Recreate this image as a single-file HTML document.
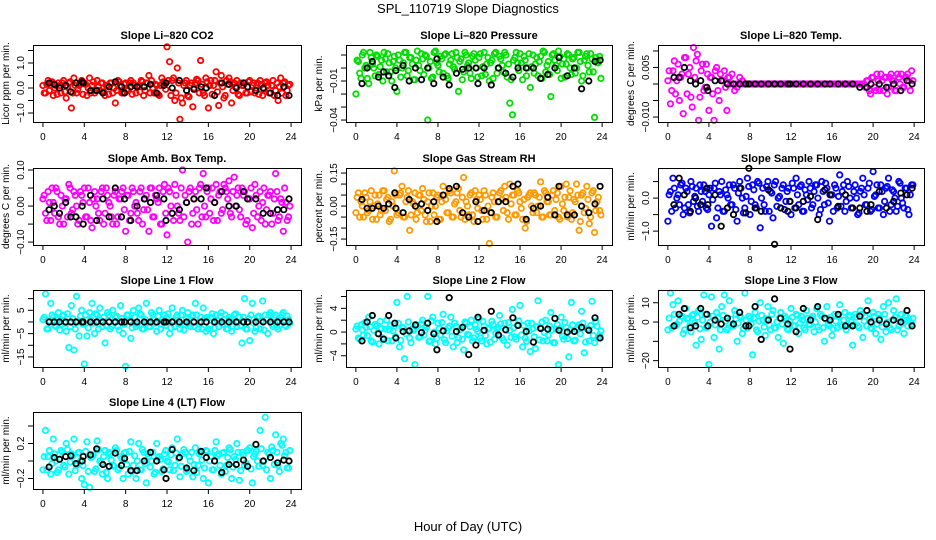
<!DOCTYPE html>
<html><head><meta charset="utf-8">
<style>
html,body{margin:0;padding:0;background:#fff;}
svg{display:block;font-family:"Liberation Sans",sans-serif;}
</style></head>
<body>
<svg id="chart" width="936" height="540" viewBox="0 0 936 540" xmlns="http://www.w3.org/2000/svg">
<rect width="936" height="540" fill="#fff"/>
<text x="468" y="13" font-size="13" text-anchor="middle">SPL_110719  Slope Diagnostics</text>
<text x="468" y="531" font-size="13" text-anchor="middle">Hour of Day (UTC)</text>
</svg>
<script>
const hours = [0,0.25,0.5,0.75,1,1.25,1.5,1.75,2,2.25,2.5,2.75,3,3.25,3.5,3.75,4,4.25,4.5,4.75,5,5.25,5.5,5.75,6,6.25,6.5,6.75,7,7.25,7.5,7.75,8,8.25,8.5,8.75,9,9.25,9.5,9.75,10,10.25,10.5,10.75,11,11.25,11.5,11.75,12,12.25,12.5,12.75,13,13.25,13.5,13.75,14,14.25,14.5,14.75,15,15.25,15.5,15.75,16,16.25,16.5,16.75,17,17.25,17.5,17.75,18,18.25,18.5,18.75,19,19.25,19.5,19.75,20,20.25,20.5,20.75,21,21.25,21.5,21.75,22,22.25,22.5,22.75,23,23.25,23.5,23.75];
const hours2 = [0.125,0.375,0.625,0.875,1.125,1.375,1.625,1.875,2.125,2.375,2.625,2.875,3.125,3.375,3.625,3.875,4.125,4.375,4.625,4.875,5.125,5.375,5.625,5.875,6.125,6.375,6.625,6.875,7.125,7.375,7.625,7.875,8.125,8.375,8.625,8.875,9.125,9.375,9.625,9.875,10.125,10.375,10.625,10.875,11.125,11.375,11.625,11.875,12.125,12.375,12.625,12.875,13.125,13.375,13.625,13.875,14.125,14.375,14.625,14.875,15.125,15.375,15.625,15.875,16.125,16.375,16.625,16.875,17.125,17.375,17.625,17.875,18.125,18.375,18.625,18.875,19.125,19.375,19.625,19.875,20.125,20.375,20.625,20.875,21.125,21.375,21.625,21.875,22.125,22.375,22.625,22.875,23.125,23.375,23.625,23.875];
const blackHours = [0.6,1.1,1.6,2.2,2.7,3.2,3.8,3.9,4.6,5.2,5.8,6.4,7.0,7.6,7.9,8.5,9.1,9.8,10.4,11.0,11.7,11.9,12.5,13.2,13.9,14.6,15.3,15.8,16.6,17.3,18.0,18.7,19.4,19.8,20.6,21.3,22.0,22.7,23.3,23.8];
const xTicks = [0,4,8,12,16,20,24];

const co2Vals = [0.1,-0.2,0.3,0.2,-0.3,0.1,0.2,-0.2,0.3,-0.4,0.2,-0.8,0.4,-0.2,0.1,0.3,0.2,-0.3,0.4,0.1,-0.2,0.3,-0.1,0.2,-0.3,0.1,0.2,-0.2,-0.6,0.3,0.1,-0.2,0.2,-0.1,0.3,0.2,-0.2,0.1,0.3,-0.3,0.2,0.5,0.3,-0.2,0.1,-0.3,0.4,0.2,1.65,1.05,0.3,-0.5,0.8,-1.25,-0.6,0.2,-0.3,0.1,-0.75,0.2,0.3,1.1,-0.2,0.4,-0.8,0.3,0.1,0.65,-0.7,0.5,-0.4,0.3,0.4,-0.6,0.2,0.3,-0.3,0.1,0.2,-0.2,0.3,0.1,-0.2,0.2,0.3,-0.3,0.2,0.1,-0.2,0.3,-0.1,-0.5,0.4,0.2,-0.3,0.1];
const co2Vals2 = [-0.2,0.15,-0.1,0.25,0,-0.25,0.1,0.2,-0.15,0.05,0.25,-0.2,0.1,-0.05,0.2,-0.25,0.15,0,-0.2,0.25,-0.1,0.05,0.2,-0.15,0.1,-0.25,0.2,0,-0.1,0.25,-0.2,0.15,-0.05,0.2,-0.25,0.1,0.05,-0.15,0.25,-0.1,0.2,-0.2,0,0.15,-0.25,0.1,0.25,-0.05,0.3,-0.3,0.4,-0.2,0.2,-0.4,0.1,0.3,-0.35,0.2,0,0.35,-0.2,0.15,-0.3,0.25,0.1,-0.25,0.3,-0.15,0.2,0.05,-0.3,0.15,0.25,-0.1,0.05,-0.25,0.2,0.1,-0.2,0.25,-0.15,0.2,0,-0.25,0.15,-0.05,0.25,-0.2,0.1,-0.3,0.2,0.05,-0.2,0.25,-0.1,0.15];
const co2Black = [0.2,0.15,0,0.1,-0.15,0.2,0.25,0.2,-0.1,-0.1,-0.2,0.05,0.25,0.05,-0.2,0.05,0.05,0.05,0.15,-0.2,0.1,0.2,0,0.3,-0.1,-0.05,0.05,0,-0.3,0.2,0.15,0,0.2,0.05,-0.1,0,-0.2,-0.3,0.05,-0.3];
const presVals = [-0.02,0.005,-0.008,0.012,0.002,-0.012,0.008,0.0,0.01,-0.005,0.006,0.012,-0.003,0.004,-0.01,0.009,-0.018,0.006,0.0,0.012,-0.006,0.008,0.003,-0.009,0.013,-0.002,0.007,0.01,-0.04,0.005,-0.007,0.013,0.002,0.009,-0.004,0.011,-0.008,0.006,0.001,0.012,-0.018,0.007,-0.003,0.01,0.004,-0.008,0.011,0.0,0.008,-0.006,0.012,0.003,-0.01,0.006,0.011,-0.004,0.009,0.002,0.012,-0.007,-0.027,-0.036,0.008,0.004,0.011,-0.009,0.006,0.0,-0.015,0.01,0.003,-0.006,0.009,0.013,-0.003,0.005,-0.022,0.011,0.002,0.013,-0.008,0.007,0.003,0.01,-0.005,0.008,0.0,0.012,-0.01,0.006,0.011,-0.003,0.007,-0.038,0.004,0.009];
const presVals2 = [0.006,-0.004,0.01,0.0,-0.008,0.012,0.003,-0.006,0.009,0.001,-0.01,0.007,0.011,-0.003,0.005,0.0,0.01,-0.007,0.004,0.012,-0.002,0.008,-0.009,0.006,0.002,0.011,-0.005,0.009,0.0,-0.008,0.012,0.004,-0.003,0.007,0.01,-0.006,0.003,0.011,-0.001,0.008,0.005,-0.009,0.012,0.002,-0.004,0.009,0.006,-0.007,0.011,0.001,-0.005,0.008,0.004,-0.008,0.012,0.0,0.007,-0.003,0.01,0.003,-0.009,0.006,0.012,-0.002,0.004,0.009,-0.006,0.011,0.001,-0.004,0.008,0.005,-0.008,0.012,0.002,-0.005,0.01,0.006,-0.002,0.009,0.003,-0.007,0.011,0.0,0.007,-0.004,0.012,0.005,-0.006,0.009,0.002,0.011,-0.003,0.008,0.004,-0.008];
const presBlack = [-0.012,0.0,0.005,-0.007,-0.003,-0.006,-0.015,-0.002,0.002,-0.01,0.0,-0.009,0.0,-0.012,0.007,-0.007,-0.013,-0.004,-0.001,0.0,0.0,-0.012,0.0,-0.013,0.0,-0.004,-0.007,0.0,0.0,0.0,-0.008,-0.005,0.0,0.008,-0.006,0.0,-0.016,-0.01,0.005,0.006];
const tempVals = [0.001,-0.006,0.004,-0.003,0.006,0.002,-0.009,0.008,0.003,-0.004,0.011,0.007,-0.011,0.004,-0.002,0.006,-0.008,0.002,-0.011,0.005,-0.005,0.001,0.004,-0.008,0.002,0.003,-0.002,-0.001,0.002,0.001,0,0,0,0,0,0,0,0,0,0,0,0,0,0,0,0,0,0,0,0,0,0,0,0,0,0,0,0,0,0,0,0,0,0,0,0,0,0,0,0,0,0,0,0,0,0,0,-0.001,0.001,-0.003,0.002,-0.002,0.001,0.003,-0.002,0.002,-0.001,0.003,0.001,-0.002,0.002,0.003,-0.001,0.002,0.001,0.004];
const tempVals2 = [0.004,-0.002,0.007,0.001,-0.005,0.003,0.008,-0.003,0.005,-0.007,0.002,0.009,-0.004,0.006,-0.001,0.003,0.002,-0.003,0.004,-0.002,0.003,0.001,-0.001,0.002,0,0,0,0,0,0,0,0,0,0,0,0,0,0,0,0,0,0,0,0,0,0,0,0,0,0,0,0,0,0,0,0,0,0,0,0,0,0,0,0,0,0,0,0,0,0,0,0,0,0,0,0,0,0.001,-0.002,0.002,-0.001,0.003,-0.002,0.001,0.002,-0.003,0.002,0.001,-0.002,0.003,0.0,-0.001,0.002,0.003,-0.002,0.001];
const tempBlack = [0.002,0.002,0.005,0.001,0.0,0.001,-0.001,-0.002,0.001,0.001,0,0,0,0,0,0,0,0,0,0,0,0,0,0,0,0,0,0,0,0,0,-0.001,-0.001,0.0,0.0,-0.001,0.0,-0.002,0.001,0.0];
const ambVals = [0.02,-0.02,0.04,-0.04,0.01,0.05,-0.03,0.03,-0.05,0.02,0.06,-0.02,0.04,0.0,-0.04,0.03,0.05,-0.03,0.01,-0.06,0.04,0.02,-0.04,0.05,-0.02,0.03,0.0,-0.05,0.04,-0.03,0.02,0.05,-0.07,0.03,-0.02,0.04,0.01,-0.04,0.05,-0.01,0.03,-0.07,0.05,-0.03,0.02,0.05,-0.05,0.06,-0.08,0.04,-0.02,0.06,0.0,-0.04,0.1,0.03,-0.1,0.05,-0.02,0.04,-0.05,0.06,0.09,-0.03,0.05,0.02,-0.04,0.06,0.03,-0.02,0.06,0.04,0.07,-0.03,0.08,0.03,-0.01,0.05,0.04,-0.04,0.02,-0.06,0.06,-0.03,0.04,0.01,-0.05,0.03,0.04,-0.02,0.09,-0.04,0.02,-0.07,0.01,-0.03];
const ambVals2 = [0.03,-0.04,0.01,0.05,-0.02,0.04,-0.05,0.0,0.02,-0.03,0.05,-0.01,0.03,-0.05,0.04,0.01,-0.03,0.05,-0.04,0.02,0.0,-0.02,0.04,-0.05,0.05,0.01,-0.03,0.03,-0.05,0.02,0.04,-0.01,0.03,-0.04,0.05,0.0,-0.02,0.04,-0.05,0.02,-0.01,0.05,-0.03,0.03,0.01,-0.05,0.04,-0.02,0.05,0.0,-0.04,0.03,-0.02,0.05,-0.03,0.01,0.04,-0.05,0.02,-0.01,0.05,-0.03,0.0,0.04,-0.02,0.05,0.01,-0.04,0.04,-0.01,0.05,0.02,-0.02,0.04,0.0,0.05,-0.03,0.03,-0.05,0.02,0.05,-0.02,0.03,0.0,-0.04,0.05,-0.01,0.03,-0.05,0.02,0.04,-0.03,0.01,0.05,-0.04,0.0];
const ambBlack = [-0.01,0.0,-0.02,0.01,-0.03,-0.03,0.0,-0.05,0.03,-0.04,0.02,-0.03,0.05,-0.03,0.02,-0.04,0.0,0.02,0.01,0.03,0.02,-0.04,-0.02,-0.01,0.01,0.02,0.02,0.05,0.01,0.04,0.0,0.0,0.04,0.02,0.02,-0.02,-0.02,-0.01,-0.01,0.02];
const gasVals = [-0.03,0.06,0.02,-0.05,0.04,-0.02,0.07,0.0,-0.06,0.05,-0.02,0.07,0.03,-0.07,0.02,0.16,-0.04,0.05,0.09,-0.05,0.04,-0.11,0.02,0.06,-0.03,0.05,0.08,-0.04,0.02,-0.07,0.06,0.0,0.05,-0.06,0.09,0.03,-0.03,0.06,-0.05,0.02,0.08,-0.05,0.13,0.02,-0.04,0.06,-0.07,0.03,0.05,-0.02,0.07,-0.06,-0.17,0.04,0.02,-0.05,0.06,0.03,0.09,-0.03,0.1,0.05,-0.04,0.07,0.02,-0.06,-0.1,0.04,0.06,-0.03,0.05,0.0,0.11,-0.05,0.06,0.02,-0.04,0.07,0.03,-0.05,0.09,-0.02,0.1,0.04,-0.06,0.03,0.1,-0.11,0.05,-0.03,0.09,-0.08,0.06,-0.12,0.02,-0.02];
const gasVals2 = [0.04,-0.05,0.0,0.06,-0.03,0.02,-0.06,0.05,0.01,-0.04,0.07,-0.02,0.04,-0.06,0.0,0.05,-0.03,0.06,-0.05,0.02,0.07,-0.04,0.01,-0.06,0.05,-0.02,0.03,-0.07,0.06,0.0,-0.04,0.04,-0.06,0.02,0.05,-0.03,0.07,-0.05,0.01,0.06,-0.02,0.04,-0.06,0.0,0.05,-0.04,0.07,-0.01,0.03,-0.06,0.05,0.0,-0.03,0.06,-0.05,0.02,0.07,-0.02,0.04,-0.06,0.01,0.05,-0.04,0.06,-0.01,0.03,-0.07,0.05,0.0,0.06,-0.03,0.04,-0.05,0.07,0.02,-0.04,0.05,-0.02,0.06,-0.06,0.01,0.04,-0.05,0.07,-0.03,0.02,0.05,-0.07,0.06,-0.01,0.03,-0.05,0.07,-0.02,0.04,-0.04];
const gasBlack = [0.03,-0.01,-0.01,0.0,-0.01,0.01,0.06,-0.01,-0.03,0.03,0.0,0.01,-0.02,0.02,-0.07,0.05,0.08,0.09,-0.03,-0.05,0.02,-0.07,-0.02,-0.03,0.02,0.02,0.09,0.1,-0.06,-0.01,0.0,0.04,-0.04,0.09,-0.04,-0.04,0.0,-0.03,0.01,0.09];
const sampleVals = [-0.7,0.2,0.6,-0.3,0.1,0.4,-0.5,0.3,-0.2,0.5,-0.1,0.3,-0.4,0.2,0.4,-0.3,0.1,-0.85,0.3,-0.6,0.2,0.5,-0.4,0.1,0.4,-0.2,0.3,-0.7,0.5,0.0,-0.3,0.6,-0.5,0.4,-0.2,0.5,-0.9,0.3,-0.4,0.5,0.2,-0.6,0.5,0.0,-0.3,0.4,-0.1,0.3,-0.5,0.3,0.6,-0.2,0.4,-0.4,0.1,0.5,-0.3,0.2,0.4,-0.5,0.5,-0.2,0.3,-0.7,0.1,0.4,-0.3,0.7,0.2,-0.4,0.5,0.0,-0.3,0.4,-0.5,0.2,0.6,-0.2,0.3,-0.4,0.8,0.1,-0.3,0.4,-0.5,0.3,0.6,-0.2,0.2,-0.4,0.5,0.0,-0.3,0.3,-0.5,0.4];
const sampleVals2 = [0.1,-0.4,0.3,0.0,-0.2,0.45,-0.3,0.2,-0.45,0.35,0.05,-0.25,0.4,-0.1,0.2,-0.35,0.3,-0.05,0.45,-0.3,0.1,-0.4,0.25,0.0,-0.2,0.4,-0.35,0.15,0.3,-0.45,0.05,0.35,-0.1,0.25,-0.3,0.45,0.0,-0.2,0.35,-0.4,0.15,0.4,-0.25,0.05,0.3,-0.35,0.2,-0.1,0.45,-0.3,0.1,0.35,-0.4,0.25,-0.05,0.3,-0.2,0.4,0.0,-0.35,0.2,0.45,-0.15,0.1,-0.4,0.3,0.05,-0.25,0.4,-0.1,0.35,-0.3,0.2,0.0,-0.45,0.3,0.1,-0.2,0.45,-0.35,0.05,0.4,-0.3,0.2,-0.1,0.35,-0.4,0.25,0.0,-0.25,0.45,-0.15,0.3,-0.35,0.1,0.4];
const sampleBlack = [-0.2,0.6,0.1,-0.4,0.0,-0.2,0.3,-0.2,0.1,-0.85,-0.3,-0.5,0.3,-0.45,0.9,-0.3,-0.4,0.25,-1.4,-0.3,-0.4,-0.1,-0.3,-0.1,0.05,-0.65,0.25,0.1,-0.25,0.1,-0.3,-0.3,-0.4,-0.2,0.2,-0.3,-0.1,0.15,0.1,0.3];
const line1Vals = [1,12,-3,8,2,-2,4,-1,3,-4,-11,7,-12,11,-6,5,-18,-6,4,8,-5,3,6,-2,-9,4,-3,5,2,-2,7,-5,-19,3,-7,5,-2,6,3,-3,8,-2,4,1,-4,5,-1,3,2,-5,6,-2,3,-3,5,-1,4,-2,3,8,-3,2,6,-4,-3,2,-5,3,-2,4,1,-3,2,-4,3,-2,2,-9,10,-3,-8,8,-4,2,-3,9,3,-5,4,-2,3,-3,2,4,-2,1];
const line1Vals2 = [2,-3,0.5,3,-1.5,1,-3.5,2.5,-0.5,3.5,-2,1.5,-3,0,2.5,-1,3,-2.5,1,-0.5,3.5,-3,0.5,2,-1.5,3,-2,0,2.5,-3.5,1.5,-1,3,0.5,-2.5,2,-1,3.5,-3,1,0,-2,3,-0.5,2.5,-3,1,-1.5,3.5,-2.5,0.5,2,-1,3,-3.5,1.5,-0.5,2.5,-2,3,0,-3,1.5,2,-1.5,3.5,-2.5,0.5,2.5,-1,3,-3,1,-2,3.5,0,-1.5,2,-3,1.5,3,-0.5,-2.5,2.5,0.5,-3.5,1,3,-1,2,-2,0.5,3,-1.5,2.5,-0.5];
const line1Black = [0,0,0,0,0,0,0,0,0,0,0,0,0,0,0,0,0,0,0,0,0,0,0,0,0,0,0,0,0,0,0,0,0,0,0,0,0,0,0,0];
const line2Vals = [0.5,-1,1.2,-0.5,0.8,2.5,-1.5,0.3,1,-2,0.6,-1.2,2,0.4,-1.5,1,5,-2.5,0.8,-4.5,6,-1,0.5,-5.5,1,-0.8,2,0.3,6,-1.5,2.5,-2,1.5,-0.5,3,-1.8,0.7,2.5,-2.5,1,-1,0.5,-3,1.5,-0.5,2,-1,0.5,2.2,-1.5,1,-2,0.7,1.8,-1.2,0.4,2.8,-1,1.5,-2.2,0.3,3.8,-0.8,1.2,4.5,-2.5,-1,1.5,-3.3,0.6,-2.8,5.3,0.8,-1.5,2,-0.5,3.3,-1.8,0.5,-5.5,2.5,-1.2,0.8,-4.2,5,-1.5,0.4,1.2,3.5,-3.5,0.6,-1.5,5.2,-1.8,1,-0.5];
const line2Vals2 = [1,-1.2,0.4,1.6,-0.6,0.9,-1.7,1.3,-0.2,1.8,-1,0.5,-1.5,1.1,0.2,-0.8,1.5,-1.4,0.7,-0.3,1.7,-1.8,0.3,1.2,-0.9,1.4,-0.5,0.8,-1.6,1.9,0,-1.1,0.6,1.6,-1.3,0.2,1,-0.7,1.5,-1.8,0.4,-1.2,1.7,-0.4,0.9,-1.5,1.2,0.1,-1,1.8,-0.6,0.5,-1.7,1.3,-0.2,0.8,1.4,-1.4,0.3,1.6,-0.9,0.7,-1.2,1.9,-0.5,1.1,-1.6,0.2,1.5,-0.8,0.9,-1.3,1.7,-0.1,-1.5,1,0.4,-1.8,1.3,0.6,-0.7,1.6,-1.1,0.3,1.2,-1.4,0.8,-0.3,1.5,-1.7,0.5,1.1,-0.6,1.8,-1,0.2];
const line2Black = [-1.5,1.7,2.8,-0.3,-1.2,2.8,1.5,-1,0.1,0.2,1.2,-0.1,1.5,-0.3,-3,0.2,5.8,0.1,0.8,-3.8,-2.2,2.5,0.3,3.5,-0.5,0.4,2.4,1.1,0.1,-1.7,0.6,0.5,2.3,0.3,0,0.1,0.8,0.3,2.4,-1.0];
const line3Vals = [-4,15,9,-2,11,3,-6,7,2,-5,4,-12,6,-9,14,-3,-22,13,-8,5,-14,8,14,-4,11,-2,6,-10,3,-6,15,-3,2,-17,5,-5,10,1,-7,8,-4,6,-3,-8,5,-11,2,-4,7,-2,4,-6,3,-3,6,-1,2,-5,7,-4,3,-10,8,-2,-7,4,-3,9,-2,5,-1,3,-12,4,-2,6,-8,3,11,-3,5,-6,4,-9,8,-5,10,-4,6,12,-2,4,-6,3,1,-1];
const line3Vals2 = [2,-3,4,-1,0.5,3,-4,1.5,-2,3.5,-0.5,2.5,-3.5,1,4,-2.5,0,3,-1.5,2,-4,3.5,0.5,-3,1.5,-2,4,-0.5,2.5,-3.5,1,3,-1,2,-4,0.5,3.5,-2.5,1.5,-1.5,4,-3,0,2,-1,3,-3.5,0.5,2.5,-2,3.5,-0.5,1,-4,2,-1.5,3,0,-2.5,4,-3,1.5,-1,2.5,-3.5,0.5,3,-2,1,-4,3.5,0,-1.5,2.5,-3,4,0.5,-2,1.5,-3.5,3,-1,2,-2.5,4,0,-3,1,2.5,-4,1.5,-0.5,3.5,-2,0,2];
const line3Black = [-2,4,7,-3,-2,7,4,-2,1,-1,2,-1,5,-2,-2,8,-9,1,12,2,-1,-14,-5,7,1,8,2,1,4,-2,-2,3,6,0,1,-1,1,0,6,-2];
const line4Vals = [-0.1,0.35,0.05,-0.15,0.25,0.0,-0.1,0.12,-0.05,0.2,-0.15,0.08,0.25,-0.05,0.1,-0.2,-0.27,0.22,-0.3,0.05,-0.12,0.23,0.0,-0.15,0.12,-0.2,0.08,-0.05,0.15,-0.1,0.05,-0.2,0.1,-0.15,0.22,-0.05,-0.2,0.2,-0.1,0.1,-0.25,0.05,0.0,-0.15,0.2,0.05,-0.12,0.08,0.0,-0.1,0.15,-0.05,0.25,-0.18,0.08,0.1,-0.1,0.0,-0.18,0.15,-0.05,0.1,-0.2,0.12,-0.25,0.05,-0.1,0.22,0.08,-0.15,0.1,-0.05,0.15,-0.2,0.05,0.2,-0.22,0.1,-0.05,0.12,0.15,-0.25,0.08,0.0,0.35,-0.05,0.5,0.1,-0.2,0.12,0.3,-0.05,0.2,0.25,0.1,-0.08];
const line4Vals2 = [0.05,-0.1,0.12,-0.03,0.08,-0.13,0.02,0.1,-0.07,0.13,-0.01,0.06,-0.11,0.09,0.0,-0.05,0.11,-0.12,0.04,0.07,-0.09,0.13,-0.02,0.05,-0.13,0.1,0.01,-0.06,0.12,-0.08,0.03,0.09,-0.04,0.11,-0.12,0.06,0.0,-0.1,0.13,-0.03,0.08,-0.07,0.1,-0.13,0.04,0.02,-0.09,0.12,-0.01,0.07,-0.11,0.09,0.03,-0.06,0.13,-0.12,0.05,0.1,-0.04,-0.13,0.08,0.01,-0.08,0.11,0.0,-0.1,0.12,0.06,-0.05,0.09,-0.12,0.04,0.13,-0.07,0.02,0.1,-0.11,0.07,-0.02,0.12,-0.09,0.05,0.11,-0.06,0.14,0.0,-0.1,0.08,0.16,-0.04,0.1,-0.12,0.18,0.06,-0.08,0.12];
const line4Black = [-0.07,0.04,0.02,0.05,0.06,-0.03,0.0,0.05,0.07,0.14,-0.04,-0.06,0.09,-0.05,0.03,-0.11,-0.11,0.0,0.1,0.0,-0.1,-0.2,0.13,0.04,-0.08,-0.11,0.11,0.04,0.0,-0.13,-0.04,-0.04,0.01,-0.06,0.19,0.0,0.04,-0.02,0.01,0.0];

const co2Ticks=[-1,-0.5,0,0.5,1,1.5], co2Labels=['-1.0','','0.0','','1.0',''];
const presTicks=[0.01,0,-0.01,-0.02,-0.03,-0.04], presLabels=['','','-0.01','','','-0.04'];
const tempTicks=[0.01,0.005,0,-0.005,-0.01], tempLabels=['','0.005','','','-0.010'];
const ambTicks=[0.1,0.05,0,-0.05,-0.1], ambLabels=['0.10','','0.00','','-0.10'];
const gasTicks=[0.15,0.1,0.05,0,-0.05,-0.1,-0.15], gasLabels=['0.15','','','0.00','','','-0.15'];
const sampleTicks=[0.5,0,-0.5,-1], sampleLabels=['','0.0','','-1.0'];
const line1Ticks=[10,5,0,-5,-10,-15], line1Labels=['','5','','-5','','-15'];
const line2Ticks=[6,4,2,0,-2,-4], line2Labels=['','4','','0','','-4'];
const line3Ticks=[10,0,-10,-20], line3Labels=['10','0','','-20'];
const line4Ticks=[0.4,0.2,0,-0.2], line4Labels=['','0.2','','-0.2'];

const NS='http://www.w3.org/2000/svg';
const svg=document.getElementById('chart');
const colLeft=[33,346,658], colW=[268,266,266], rowTop=[45,168,290,412], boxH=77;
const panels=[
 {name:'co2',title:'Slope Li\u2013820 CO2',yl:'Licor ppm per min.',col:0,row:0,lo:-1.36,hi:1.72,color:'#ff0000',v:co2Vals,v2:co2Vals2,b:co2Black,t:co2Ticks,l:co2Labels},
 {name:'pressure',title:'Slope Li\u2013820 Pressure',yl:'kPa per min.',col:1,row:0,lo:-0.0415,hi:0.0177,color:'#00dd00',v:presVals,v2:presVals2,b:presBlack,t:presTicks,l:presLabels},
 {name:'temp',title:'Slope Li\u2013820 Temp.',yl:'degrees C per min.',col:2,row:0,lo:-0.0115,hi:0.0118,color:'#ff00ff',v:tempVals,v2:tempVals2,b:tempBlack,t:tempTicks,l:tempLabels},
 {name:'amb-box-temp',title:'Slope Amb. Box Temp.',yl:'degrees C per min.',col:0,row:1,lo:-0.108,hi:0.1056,color:'#ff00ff',v:ambVals,v2:ambVals2,b:ambBlack,t:ambTicks,l:ambLabels},
 {name:'gas-stream-rh',title:'Slope Gas Stream RH',yl:'percent per min.',col:1,row:1,lo:-0.177,hi:0.173,color:'#ff9900',v:gasVals,v2:gasVals2,b:gasBlack,t:gasTicks,l:gasLabels},
 {name:'sample-flow',title:'Slope Sample Flow',yl:'ml/min per min.',col:2,row:1,lo:-1.42,hi:0.91,color:'#0000ff',v:sampleVals,v2:sampleVals2,b:sampleBlack,t:sampleTicks,l:sampleLabels},
 {name:'line1-flow',title:'Slope Line 1 Flow',yl:'ml/min per min.',col:0,row:2,lo:-19.3,hi:13.7,color:'#00ffff',v:line1Vals,v2:line1Vals2,b:line1Black,t:line1Ticks,l:line1Labels},
 {name:'line2-flow',title:'Slope Line 2 Flow',yl:'ml/min per min.',col:1,row:2,lo:-5.9,hi:7.1,color:'#00ffff',v:line2Vals,v2:line2Vals2,b:line2Black,t:line2Ticks,l:line2Labels},
 {name:'line3-flow',title:'Slope Line 3 Flow',yl:'ml/min per min.',col:2,row:2,lo:-23.3,hi:16.6,color:'#00ffff',v:line3Vals,v2:line3Vals2,b:line3Black,t:line3Ticks,l:line3Labels},
 {name:'line4-flow',title:'Slope Line 4 (LT) Flow',yl:'ml/min per min.',col:0,row:3,lo:-0.32,hi:0.56,color:'#00ffff',v:line4Vals,v2:line4Vals2,b:line4Black,t:line4Ticks,l:line4Labels}
];
function mk(tag,attrs,parent){const e=document.createElementNS(NS,tag);for(const k in attrs)e.setAttribute(k,attrs[k]);parent.appendChild(e);return e;}
panels.forEach(p=>{
 const L=colLeft[p.col], W=colW[p.col], T=rowTop[p.row], B=T+boxH;
 const xs=h=>L+W*(h+0.96)/25.92;
 const ys=v=>B-boxH*(v-p.lo)/(p.hi-p.lo);
 const g=mk('g',{},svg);
 
 
 const tt=mk('text',{x:L+W/2,y:T-6,'font-size':11,'font-weight':'bold','text-anchor':'middle'},g);
 tt.textContent=p.title;
 
 
 const cg=mk('g',{fill:'none',stroke:p.color,'stroke-width':1.8},g);
 
 
 p.v.forEach((v,i)=>{
  const c=mk('circle',{cx:xs(hours[i]).toFixed(1),cy:ys(v).toFixed(1),r:2.7},cg);
  
  
 });
 p.v2.forEach((v,i)=>{
  const c=mk('circle',{cx:xs(hours2[i]).toFixed(1),cy:ys(v).toFixed(1),r:2.7},cg);
  
  
 });
 const bg=mk('g',{fill:'none',stroke:'#000','stroke-width':1.8},g);
 
 
 p.b.forEach((v,i)=>{
  const c=mk('circle',{cx:xs(blackHours[i]).toFixed(1),cy:ys(v).toFixed(1),r:2.7},bg);
  
  
 });
 const box=mk('rect',{x:L+0.5,y:T+0.5,width:W,height:boxH,fill:'none',stroke:'#000','stroke-width':1},g);
 
 
 const x0=xs(xTicks[0]), x1=xs(xTicks[xTicks.length-1]);
 mk('line',{x1:x0,x2:x1,y1:B+0.5,y2:B+0.5,stroke:'#000'},g);
 xTicks.forEach(t=>{
  const x=xs(t);
  mk('line',{x1:x,x2:x,y1:B,y2:B+5,stroke:'#000'},g);
  const tx=mk('text',{x:x,y:B+18,'font-size':10,'text-anchor':'middle'},g);
  tx.textContent=t;
  
  
 });
 mk('line',{x1:L+0.5,x2:L+0.5,y1:ys(p.t[0]),y2:ys(p.t[p.t.length-1]),stroke:'#000'},g);
 p.t.forEach((t,i)=>{
  const y=ys(t);
  if(y<T-1||y>B+1) return;
  mk('line',{x1:L-5,x2:L,y1:y,y2:y,stroke:'#000'},g);
  if(p.l[i]){
   const tx=mk('text',{x:L-9,y:y,'font-size':10,'text-anchor':'middle',transform:`rotate(-90 ${L-9} ${y})`},g);
   tx.textContent=p.l[i].replace('-','\u2212');
   
   
  }
 });
 const yt=mk('text',{x:L-24,y:T+boxH/2,'font-size':10,'text-anchor':'middle',transform:`rotate(-90 ${L-24} ${T+boxH/2})`},g);
 yt.textContent=p.yl;
 
 
});
</script>
</body></html>
